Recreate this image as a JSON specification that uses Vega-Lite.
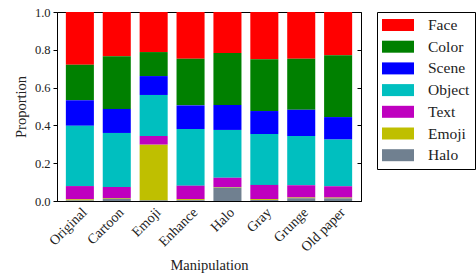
{
  "$schema": "https://vega.github.io/schema/vega-lite/v6.json",
  "width": 304,
  "height": 189,
  "autosize": {"type": "none"},
  "padding": {"left": 57, "top": 12, "right": 115, "bottom": 77},
  "config": {
    "font": "Liberation Serif",
    "view": {"stroke": "black", "strokeWidth": 1},
    "axis": {"labelFont": "Liberation Serif", "titleFont": "Liberation Serif", "labelColor": "#222", "titleColor": "#222", "domainColor": "black", "tickColor": "black", "grid": false, "titleFontWeight": "normal"},
    "legend": {"labelFont": "Liberation Serif"}
  },
  "data": {
    "values": [
      {"Manipulation": "Original", "Halo": 0.003, "Emoji": 0.006, "Text": 0.070, "Object": 0.319, "Scene": 0.135, "Color": 0.188, "Face": 0.279},
      {"Manipulation": "Cartoon", "Halo": 0.012, "Emoji": 0.004, "Text": 0.058, "Object": 0.286, "Scene": 0.127, "Color": 0.279, "Face": 0.234},
      {"Manipulation": "Emoji", "Halo": 0.003, "Emoji": 0.295, "Text": 0.046, "Object": 0.217, "Scene": 0.100, "Color": 0.127, "Face": 0.212},
      {"Manipulation": "Enhance", "Halo": 0.004, "Emoji": 0.006, "Text": 0.071, "Object": 0.300, "Scene": 0.125, "Color": 0.247, "Face": 0.247},
      {"Manipulation": "Halo", "Halo": 0.071, "Emoji": 0.003, "Text": 0.049, "Object": 0.253, "Scene": 0.132, "Color": 0.275, "Face": 0.217},
      {"Manipulation": "Gray", "Halo": 0.005, "Emoji": 0.005, "Text": 0.075, "Object": 0.269, "Scene": 0.122, "Color": 0.274, "Face": 0.250},
      {"Manipulation": "Grunge", "Halo": 0.015, "Emoji": 0.004, "Text": 0.064, "Object": 0.261, "Scene": 0.139, "Color": 0.270, "Face": 0.247},
      {"Manipulation": "Old paper", "Halo": 0.014, "Emoji": 0.004, "Text": 0.060, "Object": 0.247, "Scene": 0.119, "Color": 0.327, "Face": 0.229}
    ]
  },
  "transform": [
    {"fold": ["Face", "Color", "Scene", "Object", "Text", "Emoji", "Halo"], "as": ["Category", "Proportion"]},
    {"calculate": "indexof(['Halo','Emoji','Text','Object','Scene','Color','Face'], datum.Category)", "as": "stackOrder"}
  ],
  "layer": [
    {
      "mark": {"type": "bar"},
      "encoding": {
        "x": {
          "field": "Manipulation", "type": "nominal", "sort": null,
          "scale": {"paddingInner": 0.24, "paddingOuter": 0.24},
          "axis": {"labelFont": "Liberation Serif", "titleFont": "Liberation Serif", "labelAngle": -45, "labelAlign": "right", "labelBaseline": "top", "ticks": false, "labelPadding": 4, "labelFontSize": 14, "titleFontSize": 14.5, "titlePadding": 4}
        },
        "y": {
          "field": "Proportion", "type": "quantitative", "stack": "zero",
          "scale": {"domain": [0, 1], "nice": false},
          "axis": {"labelFont": "Liberation Serif", "titleFont": "Liberation Serif", "values": [0, 0.2, 0.4, 0.6, 0.8, 1.0], "format": ".1f", "tickSize": 4, "labelFontSize": 12.5, "labelPadding": 3, "titleFontSize": 14.5, "titlePadding": 6}
        },
        "color": {
          "field": "Category", "type": "nominal",
          "scale": {
            "domain": ["Face", "Color", "Scene", "Object", "Text", "Emoji", "Halo"],
            "range": ["#ff0000", "#008000", "#0000ff", "#00bfbf", "#bf00bf", "#bfbf00", "#708090"]
          },
          "legend": {
            "orient": "none", "legendX": 320, "legendY": 0, "title": null,
            "strokeColor": "black", "padding": 5,
            "symbolType": "M-1,-0.75H3V0.75H-1Z", "symbolSize": 256, "symbolStrokeWidth": 0, "symbolOpacity": 1,
            "labelFont": "Liberation Serif", "labelFontSize": 15.5, "labelOffset": 30, "rowPadding": 4.7, "labelColor": "#222"
          }
        },
        "order": {"field": "stackOrder", "type": "quantitative"}
      }
    },
    {
      "mark": {"type": "bar", "opacity": 0},
      "encoding": {
        "x": {"field": "Manipulation", "type": "nominal", "sort": null},
        "y": {
          "field": "Proportion", "type": "quantitative", "stack": "zero",
          "scale": {"domain": [0, 1], "nice": false},
          "axis": {"orient": "right", "values": [0, 0.2, 0.4, 0.6, 0.8, 1.0], "labels": false, "title": null, "tickSize": -4, "domain": false}
        }
      }
    }
  ],
  "resolve": {"axis": {"y": "independent"}}
}
